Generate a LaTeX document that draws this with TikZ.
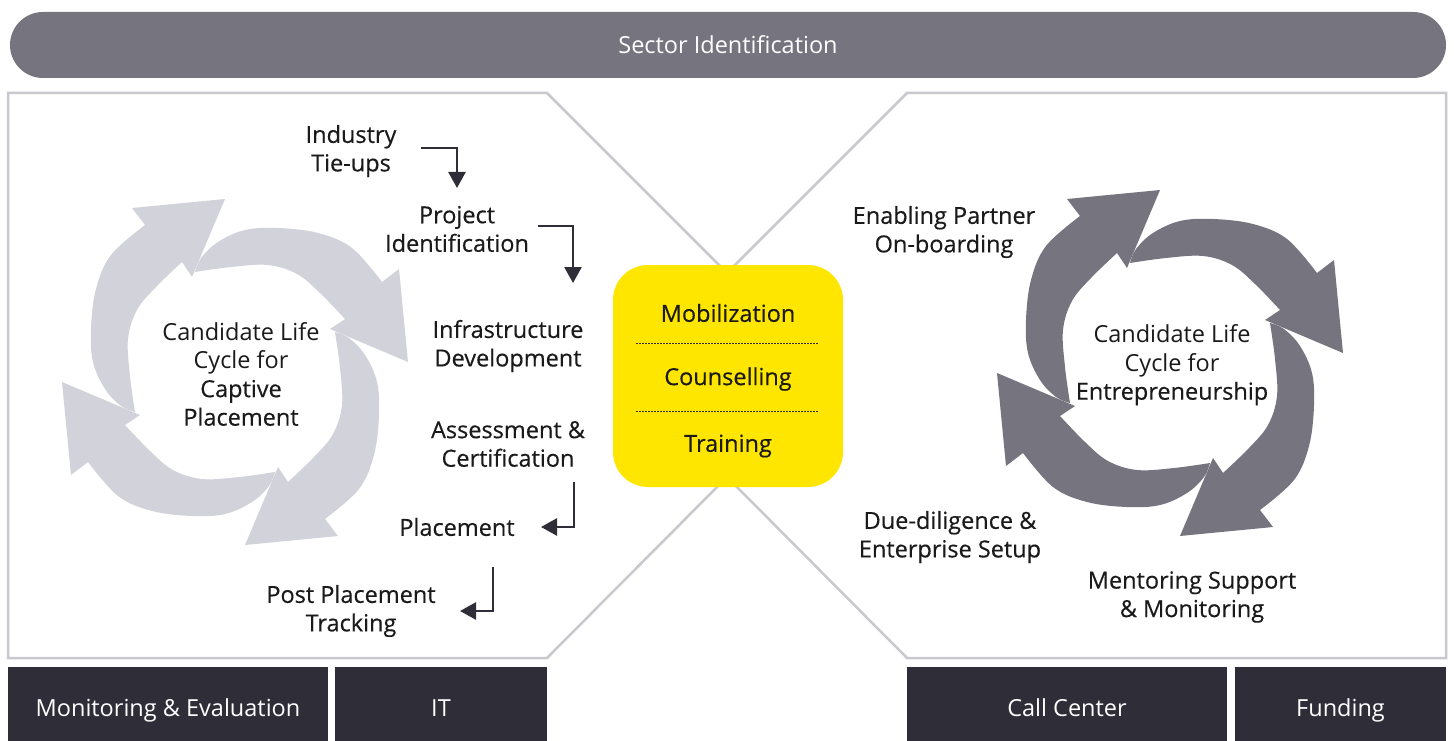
\documentclass[tikz,border=0pt]{standalone}
\usepackage{fontspec}
\setmainfont{Open Sans}
\newfontfamily\medfont[FakeBold=0.35]{Open Sans}
\usetikzlibrary{arrows.meta,calc}
\definecolor{bannergray}{HTML}{75747F}
\definecolor{lightcyc}{HTML}{D2D3DA}
\definecolor{panelline}{HTML}{C8C8CE}
\definecolor{darkbox}{HTML}{2E2D38}
\definecolor{eyyellow}{HTML}{FFE600}
\definecolor{txt}{HTML}{1A1A1A}
\newcommand{\swirlarrow}[1]{%
  \fill[#1] plot[smooth, tension=0.6] coordinates {(-100,-40) (-114,-34) (-130,-17) (-142,10) (-144,43) (-139,83) (-124,117) (-90,147)}
    -- (-103,164) -- (-10,173) -- (-43,95)
    -- plot[smooth, tension=0.6] coordinates {(-53,110) (-79,85) (-98,62) (-107,33) (-105,-4) (-100,-40)} -- cycle;}
\begin{document}
\begin{tikzpicture}[x=1pt,y=-1pt,
  font=\fontsize{23.5}{28.5}\selectfont,
  lbl/.style={align=center, inner sep=0pt, text=txt, font=\medfont\fontsize{23.5}{28.5}\selectfont},
  cyclbl/.style={align=center, inner sep=0pt, text=txt},
  banner/.style={fill=bannergray, text=white, rounded corners=33pt, minimum width=1436pt, minimum height=66pt, inner sep=0pt},
  basebox/.style={fill=darkbox, text=white, minimum height=74pt, inner sep=0pt, text height=25pt, text depth=0pt},
  ybox/.style={fill=eyyellow, rounded corners=35pt, minimum width=230pt, minimum height=222pt, inner sep=0pt},
  panel/.style={draw=panelline, line width=2.5pt, line join=miter},
  elbow/.style={draw=darkbox, line width=2.6pt, -{Triangle[length=16pt,width=17pt]}},
  dotsep/.style={draw=darkbox, line width=0.9pt, dash pattern=on 1.5pt off 1.5pt}]
\useasboundingbox (0,0) rectangle (1454,741);
\fill[white] (0,0) rectangle (1454,741);

% banner
\node[banner] (sector) at (728,45) {Sector Identification};

% panels
\path[panel] (8,93) -- (547,93) -- (727,273) -- (727,477) -- (547,658) -- (8,658) -- cycle;
\path[panel] (1446,93) -- (907,93) -- (727,273) -- (727,477) -- (907,658) -- (1446,658) -- cycle;

% bottom boxes
\node[basebox, minimum width=320pt] (me) at (168,704) {Monitoring \& Evaluation};
\node[basebox, minimum width=212pt] (it) at (441,704) {IT};
\node[basebox, minimum width=320pt] (cc) at (1067,704) {Call Center};
\node[basebox, minimum width=211pt] (fund) at (1340.5,704) {Funding};

% centre box
\node[ybox] (core) at (728,376) {};
\node[lbl] (mob) at (728,313) {Mobilization};
\node[lbl] (coun) at (728,379) {Counselling};
\node[lbl] (train) at (728,446) {Training};
\draw[dotsep] (636,343) -- (819,343);
\draw[dotsep] (636,411) -- (819,411);

% left cycle
\foreach \k in {0,1,2,3}{
  \begin{scope}[shift={(235,372)}, x=1pt, y=1pt, rotate=-90*\k]
    \swirlarrow{lightcyc}
  \end{scope}}
\node[cyclbl] (lcyc) at (241,374) {Candidate Life\\Cycle for\\{\medfont Captive}\\{\medfont Placement}};

% right cycle
\foreach \k in {0,1,2,3}{
  \begin{scope}[shift={(1170,363)}, x=1pt, y=1pt, rotate=-90*\k]
    \swirlarrow{bannergray}
  \end{scope}}
\node[cyclbl] (rcyc) at (1172,365) {Candidate Life\\Cycle for\\{\medfont Entrepreneurship}};

% left steps
\node[lbl] (ind) at (351,151) {Industry\\Tie-ups};
\node[lbl] (proj) at (457,229) {Project\\Identification};
\node[lbl] (infra) at (508,346) {Infrastructure\\Development};
\node[lbl] (assess) at (508,444) {Assessment \&\\Certification};
\node[lbl] (place) at (457,527) {Placement};
\node[lbl] (post) at (351,611) {Post Placement\\Tracking};

\draw[elbow] ($(ind)+(70,-3)$) -| ($(proj)+(0,-41)$);
\draw[elbow] ($(proj)+(81,-3)$) -| ($(infra)+(65,-63)$);
\draw[elbow] ($(assess)+(66,38)$) |- ($(place)+(84,0)$);
\draw[elbow] ($(place)+(36,40)$) |- ($(post)+(109,0)$);

% right steps
\node[lbl] (enab) at (944,232) {Enabling Partner\\On-boarding};
\node[lbl] (due) at (950,537) {Due-diligence \&\\Enterprise Setup};
\node[lbl] (ment) at (1192,597) {Mentoring Support\\\& Monitoring};
\end{tikzpicture}
\end{document}
